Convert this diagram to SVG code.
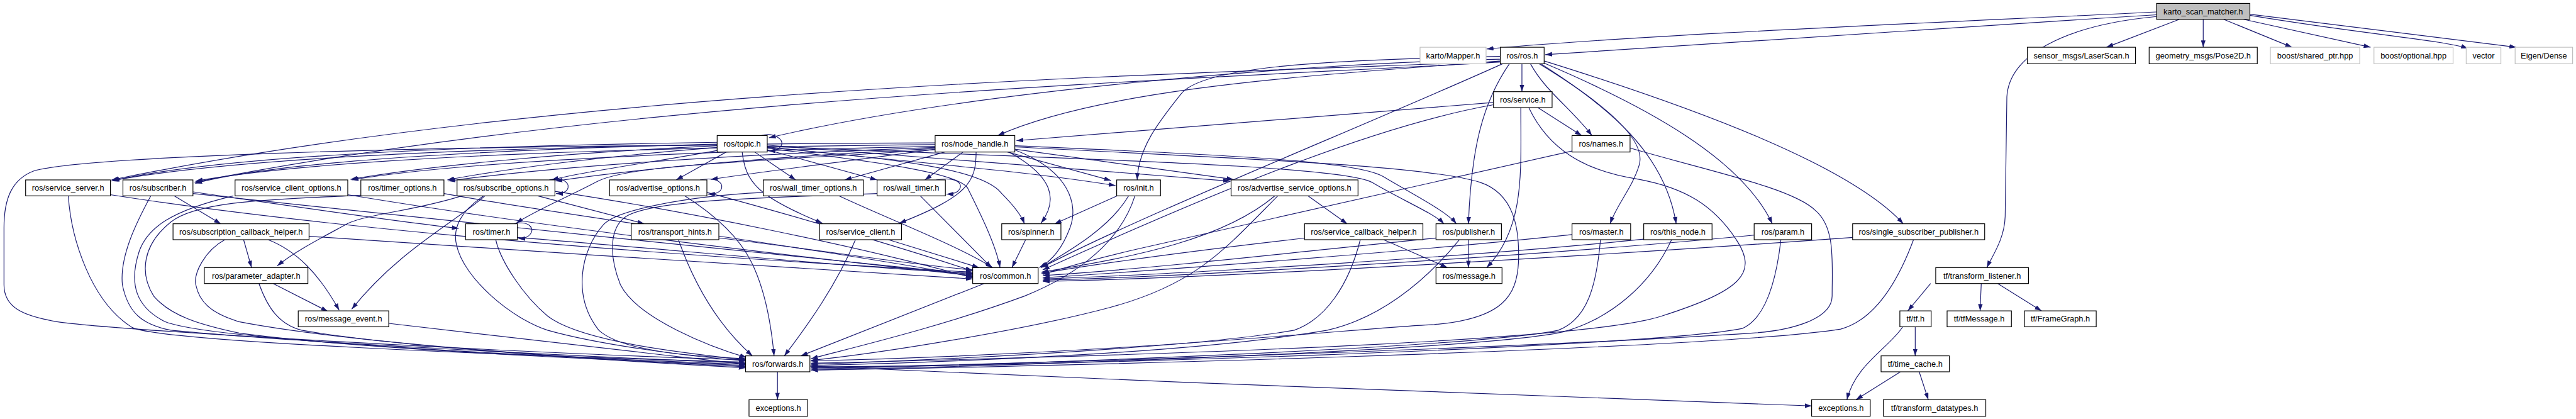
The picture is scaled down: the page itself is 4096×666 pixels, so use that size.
<svg xmlns="http://www.w3.org/2000/svg" width="4096" height="666" viewBox="0 0 4096 666">
<style>
.n rect{fill:#ffffff;stroke:#000000;stroke-width:1.3}
.n.g rect{stroke:#bfbfbf}
.n.root rect{fill:#bfbfbf}
.n text{font-family:"Liberation Sans",Arial,sans-serif;font-size:14.2px;text-anchor:middle;fill:#000000}
#edges path{fill:none;stroke:#191970;stroke-width:1.3;marker-end:url(#a)}
</style>
<defs>
<marker id="a" markerUnits="userSpaceOnUse" markerWidth="12" markerHeight="8" refX="12" refY="4" orient="auto" viewBox="0 0 12 8">
<path d="M0,0 L12,4 L0,8 z" fill="#191970"/>
</marker>
</defs>
<rect x="0" y="0" width="4096" height="666" fill="#ffffff"/>
<g transform="scale(0.905)">
<g id="edges">
<path d="M3789,21 C3400,40 2900,60 2612,86"/>
<path d="M3789,26 C3400,50 3000,75 2715,96"/>
<path d="M3789,29 C3620,45 3530,100 3526,170 L3523,380 C3522,420 3500,450 3491,470"/>
<path d="M3829,34 L3701,83"/>
<path d="M3871,34 L3871,83"/>
<path d="M3907,34 L4027,83"/>
<path d="M3942,34 L4165,83"/>
<path d="M3953,27 C4150,60 4290,70 4336,85"/>
<path d="M3953,25 L4421,83"/>
<path d="M2674,112 L2674,161"/>
<path d="M2689,112 C2715,160 2760,190 2797,238"/>
<path d="M2636,107 C2350,130 1950,150 1753,238"/>
<path d="M2636,104 C2300,110 1700,160 1351,242"/>
<path d="M2636,108 C2100,130 1000,150 196,316"/>
<path d="M2636,109 C2100,140 1100,170 342,320"/>
<path d="M2636,99 C2300,105 2110,120 2075,165 C2035,215 2000,260 1998,316"/>
<path d="M2652,112 C2605,180 2585,260 2580,393"/>
<path d="M2704,112 C2800,170 2895,240 2880,290 C2868,330 2840,360 2829,393"/>
<path d="M2707,112 C2830,190 2925,270 2945,393"/>
<path d="M2711,110 C2900,190 3060,280 3114,393"/>
<path d="M2713,107 C2980,190 3250,290 3344,393"/>
<path d="M2640,112 C2400,220 2000,380 1830,470"/>
<path d="M2624,180 L1786,247"/>
<path d="M2702,189 L2779,238"/>
<path d="M2624,184 C2420,220 2150,330 1832,474"/>
<path d="M2672,189 C2672,300 2680,400 2612,470"/>
<path d="M2686,189 C2720,260 2780,300 2880,315 C2960,330 3010,360 3050,420 C3090,480 3060,510 2920,555 C2800,595 2200,620 1425,638"/>
<path d="M1338,238 C1360,232 1378,245 1373,255 C1370,262 1362,265 1350,265"/>
<path d="M1260,250 C900,255 400,270 196,318"/>
<path d="M1260,253 C900,262 500,280 343,322"/>
<path d="M1260,256 C1000,268 760,290 616,315"/>
<path d="M1260,259 C1050,275 880,298 786,316"/>
<path d="M1262,264 C1150,285 1030,300 969,316"/>
<path d="M1276,267 L1188,316"/>
<path d="M1326,267 L1398,316"/>
<path d="M1348,263 L1541,316"/>
<path d="M1348,258 C1600,285 1800,300 1960,326"/>
<path d="M1348,255 C1700,282 1950,300 2161,318"/>
<path d="M1304,267 C1310,320 1330,345 1445,392"/>
<path d="M1348,260 C1500,280 1680,300 1700,330 C1720,370 1750,430 1757,470"/>
<path d="M1348,259 C1600,280 1730,300 1760,340 C1780,360 1795,380 1800,393"/>
<path d="M1348,257 C1900,280 2350,290 2410,320 C2460,350 2520,375 2537,393"/>
<path d="M1260,255 C700,258 150,275 60,300 C20,315 7,350 7,400 L7,500 C7,540 40,555 100,565 C200,580 900,620 1310,632"/>
<path d="M1643,251 C1200,252 500,262 198,317"/>
<path d="M1643,254 C1200,258 600,272 344,318"/>
<path d="M1643,257 C1200,266 800,285 618,316"/>
<path d="M1643,259 C1250,273 950,295 788,318"/>
<path d="M1643,261 C1300,278 1100,300 976,318"/>
<path d="M1643,262 C1500,282 1350,300 1249,315"/>
<path d="M1660,267 L1484,316"/>
<path d="M1692,267 L1625,316"/>
<path d="M1770,267 L1952,317"/>
<path d="M1783,262 L2167,315"/>
<path d="M1783,256 C2100,270 2380,280 2430,310 C2480,340 2540,370 2559,393"/>
<path d="M1715,267 C1715,320 1700,345 1580,392"/>
<path d="M1773,267 C1850,310 1860,350 1829,392"/>
<path d="M1782,263 C1880,300 1895,360 1880,400 C1865,440 1845,460 1826,470"/>
<path d="M1643,263 C1300,285 1100,290 1047,320 C1000,345 940,370 907,392"/>
<path d="M1783,258 C2200,280 2500,290 2600,320 C2660,340 2670,400 2668,460 C2665,520 2640,560 2520,570 C2400,575 2000,620 1425,634"/>
<path d="M194,342 C500,390 1000,440 1709,478"/>
<path d="M120,344 C125,420 160,530 232,575 C280,600 900,625 1310,636"/>
<path d="M306,344 L388,393"/>
<path d="M339,337 C500,360 700,390 806,401"/>
<path d="M339,340 C700,380 1300,440 1709,482"/>
<path d="M265,344 C240,390 210,450 215,500 C225,550 250,570 300,580 C500,600 1000,625 1310,638"/>
<path d="M410,344 C300,370 260,400 245,440 C225,500 240,540 290,565 C360,595 900,625 1310,640"/>
<path d="M634,343 C500,350 350,350 300,390 C250,430 245,480 270,520 C300,555 350,570 420,585 C600,610 1000,630 1310,642"/>
<path d="M611,342 C900,390 1300,440 1709,484"/>
<path d="M780,340 C1000,380 1400,430 1709,486"/>
<path d="M965,316 C990,310 1000,322 998,330 C996,337 988,340 977,340"/>
<path d="M811,344 C730,370 650,375 612,392 C570,415 520,440 487,467"/>
<path d="M852,344 C800,390 700,440 618,543"/>
<path d="M945,344 L1132,393"/>
<path d="M975,336 C1200,370 1500,430 1709,488"/>
<path d="M850,344 C810,370 795,400 802,430 C815,490 900,560 962,580 C1050,605 1200,625 1310,634"/>
<path d="M1230,316 C1260,310 1270,322 1268,330 C1266,338 1258,341 1244,341"/>
<path d="M1203,344 C1260,380 1300,420 1320,460 C1345,510 1355,570 1360,625"/>
<path d="M1242,338 C1400,380 1600,440 1709,476"/>
<path d="M1474,344 C1550,380 1680,430 1744,470"/>
<path d="M1341,338 C1200,345 1080,370 1060,395 C1020,440 1005,520 1052,580 C1090,615 1200,625 1310,630"/>
<path d="M1645,316 C1680,310 1690,322 1687,330 C1684,338 1676,341 1663,341"/>
<path d="M1617,344 L1742,470"/>
<path d="M1541,340 C1350,347 1150,350 1100,380 C1070,400 1070,450 1090,500 C1120,560 1250,610 1312,628"/>
<path d="M1963,344 L1853,393"/>
<path d="M1983,344 C1950,400 1880,440 1829,470"/>
<path d="M1994,344 C1970,420 1900,480 1800,520 C1650,575 1500,610 1425,630"/>
<path d="M2298,344 L2367,393"/>
<path d="M2240,344 C2150,420 2000,450 1830,478"/>
<path d="M2245,344 C2150,440 2100,500 1950,540 C1800,580 1550,620 1425,633"/>
<path d="M428,421 L442,470"/>
<path d="M471,421 C520,440 560,480 596,545"/>
<path d="M395,421 C360,440 340,480 344,500 C350,530 370,550 420,565 C600,600 1000,630 1310,644"/>
<path d="M543,415 C900,440 1400,470 1709,490"/>
<path d="M480,498 L576,547"/>
<path d="M455,498 C470,540 490,570 530,580 C700,610 1100,635 1310,646"/>
<path d="M683,568 L1310,640"/>
<path d="M903,393 C928,387 937,400 934,407 C931,415 923,419 911,419"/>
<path d="M909,417 C1200,440 1500,470 1709,480"/>
<path d="M871,421 C880,460 920,520 962,555 C1020,600 1200,620 1310,632"/>
<path d="M1192,421 C1220,500 1260,570 1322,625"/>
<path d="M1263,418 C1450,440 1600,465 1709,474"/>
<path d="M1503,421 C1470,500 1420,570 1378,625"/>
<path d="M1561,421 L1720,470"/>
<path d="M1802,421 L1778,470"/>
<path d="M1729,498 L1407,625"/>
<path d="M2431,421 L2543,470"/>
<path d="M2294,418 C2100,440 1950,460 1830,480"/>
<path d="M2390,421 C2370,500 2330,560 2274,580 C2100,610 1700,630 1425,640"/>
<path d="M2580,421 L2580,470"/>
<path d="M2523,418 C2300,440 2050,470 1832,484"/>
<path d="M2564,421 C2500,500 2420,560 2332,580 C2100,620 1700,635 1425,642"/>
<path d="M2763,265 L2000,437 C1930,453 1870,470 1832,482"/>
<path d="M2864,260 C3000,300 3150,330 3190,370 C3225,400 3219,460 3219,520 C3219,560 3150,580 3080,585 C2700,610 1800,640 1425,646"/>
<path d="M2762,412 C2500,440 2100,470 1832,488"/>
<path d="M2812,421 C2805,500 2790,560 2738,580 C2600,610 1800,640 1425,648"/>
<path d="M2888,420 C2600,450 2100,480 1832,490"/>
<path d="M2937,421 C2900,500 2830,560 2746,583 C2600,615 1800,642 1425,650"/>
<path d="M3082,413 C2700,450 2100,485 1832,492"/>
<path d="M3129,421 C3120,500 3100,560 3061,577 C2900,610 1800,645 1425,644"/>
<path d="M3256,417 C2800,450 2100,490 1832,494"/>
<path d="M3362,421 C3340,480 3300,560 3234,578 C3000,615 1800,645 1425,650"/>
<path d="M3392,498 L3352,546"/>
<path d="M3481,498 L3479,546"/>
<path d="M3510,498 L3587,546"/>
<path d="M3365,574 L3365,625"/>
<path d="M3343,574 C3320,610 3260,640 3245,702"/>
<path d="M3339,653 L3261,702"/>
<path d="M3372,653 L3388,702"/>
<path d="M1366,653 L1366,702"/>
<path d="M1423,643 C2000,670 2800,700 3183,713"/>
</g>
<g id="node-karto_scan_matcher" class="n root"><rect x="3789" y="6" width="164" height="28"/><text x="3871" y="25">karto_scan_matcher.h</text></g>
<g id="node-karto_mapper" class="n g"><rect x="2495" y="83" width="116" height="29"/><text x="2553" y="102.5">karto/Mapper.h</text></g>
<g id="node-ros" class="n"><rect x="2636" y="83" width="77" height="29"/><text x="2674.5" y="102.5">ros/ros.h</text></g>
<g id="node-laserscan" class="n"><rect x="3562" y="83" width="190" height="29"/><text x="3657" y="102.5">sensor_msgs/LaserScan.h</text></g>
<g id="node-pose2d" class="n"><rect x="3776" y="83" width="190" height="29"/><text x="3871" y="102.5">geometry_msgs/Pose2D.h</text></g>
<g id="node-shared_ptr" class="n g"><rect x="3989" y="83" width="157" height="29"/><text x="4067.5" y="102.5">boost/shared_ptr.hpp</text></g>
<g id="node-optional" class="n g"><rect x="4171" y="83" width="139" height="29"/><text x="4240.5" y="102.5">boost/optional.hpp</text></g>
<g id="node-vector" class="n g"><rect x="4333" y="83" width="61" height="29"/><text x="4363.5" y="102.5">vector</text></g>
<g id="node-eigen" class="n g"><rect x="4419" y="83" width="101" height="29"/><text x="4469.5" y="102.5">Eigen/Dense</text></g>
<g id="node-service" class="n"><rect x="2624" y="161" width="103" height="28"/><text x="2675.5" y="180">ros/service.h</text></g>
<g id="node-topic" class="n"><rect x="1260" y="238" width="88" height="29"/><text x="1304" y="257.5">ros/topic.h</text></g>
<g id="node-node_handle" class="n"><rect x="1643" y="238" width="140" height="29"/><text x="1713" y="257.5">ros/node_handle.h</text></g>
<g id="node-names" class="n"><rect x="2762" y="238" width="102" height="29"/><text x="2813" y="257.5">ros/names.h</text></g>
<g id="node-service_server" class="n"><rect x="45" y="316" width="149" height="28"/><text x="119.5" y="335">ros/service_server.h</text></g>
<g id="node-subscriber" class="n"><rect x="216" y="316" width="123" height="28"/><text x="277.5" y="335">ros/subscriber.h</text></g>
<g id="node-service_client_options" class="n"><rect x="413" y="316" width="198" height="28"/><text x="512" y="335">ros/service_client_options.h</text></g>
<g id="node-timer_options" class="n"><rect x="634" y="316" width="146" height="28"/><text x="707" y="335">ros/timer_options.h</text></g>
<g id="node-subscribe_options" class="n"><rect x="803" y="316" width="172" height="28"/><text x="889" y="335">ros/subscribe_options.h</text></g>
<g id="node-advertise_options" class="n"><rect x="1071" y="316" width="171" height="28"/><text x="1156.5" y="335">ros/advertise_options.h</text></g>
<g id="node-wall_timer_options" class="n"><rect x="1341" y="316" width="176" height="28"/><text x="1429" y="335">ros/wall_timer_options.h</text></g>
<g id="node-wall_timer" class="n"><rect x="1541" y="316" width="120" height="28"/><text x="1601" y="335">ros/wall_timer.h</text></g>
<g id="node-init" class="n"><rect x="1962" y="316" width="77" height="28"/><text x="2000.5" y="335">ros/init.h</text></g>
<g id="node-advertise_service_options" class="n"><rect x="2163" y="316" width="223" height="28"/><text x="2274.5" y="335">ros/advertise_service_options.h</text></g>
<g id="node-subscription_callback_helper" class="n"><rect x="304" y="393" width="239" height="28"/><text x="423.5" y="412">ros/subscription_callback_helper.h</text></g>
<g id="node-timer" class="n"><rect x="818" y="393" width="91" height="28"/><text x="863.5" y="412">ros/timer.h</text></g>
<g id="node-transport_hints" class="n"><rect x="1109" y="393" width="154" height="28"/><text x="1186" y="412">ros/transport_hints.h</text></g>
<g id="node-service_client" class="n"><rect x="1440" y="393" width="144" height="28"/><text x="1512" y="412">ros/service_client.h</text></g>
<g id="node-spinner" class="n"><rect x="1760" y="393" width="104" height="28"/><text x="1812" y="412">ros/spinner.h</text></g>
<g id="node-service_callback_helper" class="n"><rect x="2292" y="393" width="208" height="28"/><text x="2396" y="412">ros/service_callback_helper.h</text></g>
<g id="node-publisher" class="n"><rect x="2523" y="393" width="115" height="28"/><text x="2580.5" y="412">ros/publisher.h</text></g>
<g id="node-master" class="n"><rect x="2762" y="393" width="103" height="28"/><text x="2813.5" y="412">ros/master.h</text></g>
<g id="node-this_node" class="n"><rect x="2888" y="393" width="120" height="28"/><text x="2948" y="412">ros/this_node.h</text></g>
<g id="node-param" class="n"><rect x="3082" y="393" width="101" height="28"/><text x="3132.5" y="412">ros/param.h</text></g>
<g id="node-single_subscriber_publisher" class="n"><rect x="3255" y="393" width="232" height="28"/><text x="3371" y="412">ros/single_subscriber_publisher.h</text></g>
<g id="node-parameter_adapter" class="n"><rect x="359" y="470" width="182" height="28"/><text x="450" y="489">ros/parameter_adapter.h</text></g>
<g id="node-common" class="n"><rect x="1709" y="470" width="115" height="28"/><text x="1766.5" y="489">ros/common.h</text></g>
<g id="node-message" class="n"><rect x="2523" y="470" width="116" height="28"/><text x="2581" y="489">ros/message.h</text></g>
<g id="node-transform_listener" class="n"><rect x="3401" y="470" width="163" height="28"/><text x="3482.5" y="489">tf/transform_listener.h</text></g>
<g id="node-message_event" class="n"><rect x="524" y="546" width="159" height="28"/><text x="603.5" y="565">ros/message_event.h</text></g>
<g id="node-tf" class="n"><rect x="3338" y="546" width="55" height="28"/><text x="3365.5" y="565">tf/tf.h</text></g>
<g id="node-tfmessage" class="n"><rect x="3421" y="546" width="113" height="28"/><text x="3477.5" y="565">tf/tfMessage.h</text></g>
<g id="node-framegraph" class="n"><rect x="3557" y="546" width="126" height="28"/><text x="3620" y="565">tf/FrameGraph.h</text></g>
<g id="node-forwards" class="n"><rect x="1310" y="625" width="113" height="28"/><text x="1366.5" y="644">ros/forwards.h</text></g>
<g id="node-time_cache" class="n"><rect x="3305" y="625" width="120" height="28"/><text x="3365" y="644">tf/time_cache.h</text></g>
<g id="node-exceptions_ros" class="n"><rect x="1316" y="702" width="103" height="29"/><text x="1367.5" y="721.5">exceptions.h</text></g>
<g id="node-exceptions_tf" class="n"><rect x="3183" y="702" width="103" height="29"/><text x="3234.5" y="721.5">exceptions.h</text></g>
<g id="node-transform_datatypes" class="n"><rect x="3309" y="702" width="180" height="29"/><text x="3399" y="721.5">tf/transform_datatypes.h</text></g>
</g>
</svg>
